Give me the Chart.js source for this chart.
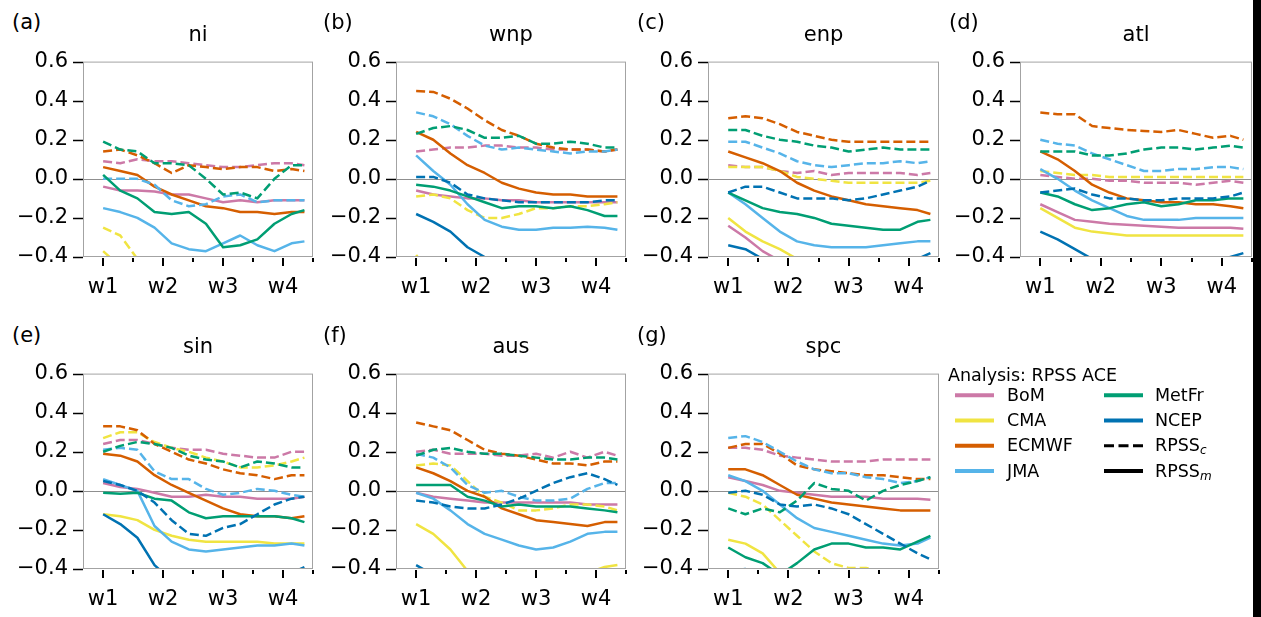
<!DOCTYPE html>
<html lang="en">
<head>
    <meta charset="UTF-8">
    <title>Analysis: RPSS ACE</title>
    <script src="https://cdn.jsdelivr.net/npm/chart.js"></script>
    <style>
        body {
            margin: 0;
            background: #fff;
            font-family: 'DejaVu Sans', sans-serif;
            color: #000;
        }
        #figure {
            position: relative;
            width: 1261px;
            height: 617px;
            overflow: hidden;
            background: #fff;
        }
        .panel { position: absolute; }
        .letter, .title {
            position: absolute;
            font-size: 21px;
            line-height: 21px;
            white-space: nowrap;
        }
        .title { transform: translateX(-50%); }
        .legend-text {
            position: absolute;
            font-size: 17.5px;
            line-height: 17.5px;
            white-space: nowrap;
        }
        .legend-text sub {
            font-size: 12px;
            font-style: italic;
            vertical-align: -3px;
            line-height: 0;
        }
        #legendLines { position: absolute; left: 0; top: 0; }
        /* dark strip along the right edge of the source image */
        .edge { position: absolute; left: 1253px; top: 0; width: 8px; height: 617px; background: #000; }
    </style>
</head>
<body>
<div id="figure">
    <div class="edge"></div>
</div>

<script>
const models = ['BoM', 'CMA', 'ECMWF', 'JMA', 'MetFr', 'NCEP'];
const modelColors = ['#CC79A7', '#F0E442', '#D55E00', '#56B4E9', '#009E73', '#0072B2'];
const regions = ['ni', 'wnp', 'enp', 'atl', 'sin', 'aus', 'spc'];
const panelLetters = ['(a)', '(b)', '(c)', '(d)', '(e)', '(f)', '(g)'];

// lead time in days, w1 = 0
const leadDays = [0, 2, 4, 6, 8, 10, 12, 14, 16, 18, 20, 22, 23.5];
const weekTicks = [0, 7, 14, 21];
const weekLabels = ['w1', 'w2', 'w3', 'w4'];
const halfWeekTicks = [3.5, 10.5, 17.5, 24.5];
const yTicks = [-0.4, -0.2, 0.0, 0.2, 0.4, 0.6];

// rows follow `models`; C = RPSS_c (dashed), M = RPSS_m (solid)
const niC = [
    [0.09, 0.08, 0.10, 0.09, 0.09, 0.08, 0.07, 0.06, 0.06, 0.07, 0.08, 0.08, 0.07],
    [-0.25, -0.29, -0.41, -0.5, -0.5, -0.5, -0.5, -0.5, -0.5, -0.5, -0.5, -0.5, -0.5],
    [0.14, 0.15, 0.12, 0.08, 0.03, 0.07, 0.06, 0.05, 0.06, 0.06, 0.04, 0.05, 0.04],
    [0.0, 0.0, 0.0, -0.03, -0.11, -0.14, -0.13, -0.09, -0.08, -0.12, -0.11, -0.11, -0.11],
    [0.19, 0.15, 0.14, 0.08, 0.08, 0.07, 0.00, -0.08, -0.07, -0.10, 0.00, 0.07, 0.07],
    [-0.5, -0.5, -0.5, -0.5, -0.5, -0.5, -0.5, -0.5, -0.5, -0.5, -0.5, -0.5, -0.5]
];
const niM = [
    [-0.04, -0.06, -0.06, -0.065, -0.08, -0.08, -0.10, -0.12, -0.11, -0.12, -0.11, -0.11, -0.11],
    [-0.37, -0.45, -0.5, -0.5, -0.5, -0.5, -0.5, -0.5, -0.5, -0.5, -0.5, -0.5, -0.5],
    [0.06, 0.04, 0.02, -0.04, -0.08, -0.11, -0.14, -0.15, -0.17, -0.17, -0.18, -0.17, -0.17],
    [-0.15, -0.17, -0.20, -0.25, -0.33, -0.36, -0.37, -0.33, -0.29, -0.34, -0.37, -0.33, -0.32],
    [0.02, -0.06, -0.10, -0.17, -0.18, -0.17, -0.23, -0.35, -0.34, -0.31, -0.23, -0.18, -0.16],
    [-0.5, -0.5, -0.5, -0.5, -0.5, -0.5, -0.5, -0.5, -0.5, -0.5, -0.5, -0.5, -0.5]
];

const wnpC = [
    [0.14, 0.15, 0.16, 0.16, 0.17, 0.17, 0.16, 0.16, 0.15, 0.15, 0.15, 0.14, 0.15],
    [-0.09, -0.08, -0.10, -0.16, -0.20, -0.20, -0.18, -0.15, -0.15, -0.14, -0.14, -0.13, -0.12],
    [0.45, 0.445, 0.41, 0.36, 0.30, 0.25, 0.22, 0.18, 0.16, 0.15, 0.15, 0.14, 0.15],
    [0.34, 0.32, 0.28, 0.22, 0.17, 0.15, 0.16, 0.15, 0.14, 0.13, 0.14, 0.14, 0.15],
    [0.23, 0.26, 0.27, 0.25, 0.21, 0.21, 0.22, 0.18, 0.18, 0.19, 0.18, 0.16, 0.16],
    [0.01, 0.01, -0.02, -0.08, -0.10, -0.11, -0.12, -0.12, -0.12, -0.12, -0.12, -0.11, -0.11]
];
const wnpM = [
    [-0.06, -0.08, -0.09, -0.10, -0.10, -0.11, -0.11, -0.12, -0.12, -0.12, -0.12, -0.12, -0.12],
    [-0.39, -0.5, -0.5, -0.5, -0.5, -0.5, -0.5, -0.5, -0.5, -0.5, -0.5, -0.5, -0.5],
    [0.24, 0.20, 0.13, 0.07, 0.03, -0.02, -0.05, -0.07, -0.08, -0.08, -0.09, -0.09, -0.09],
    [0.12, 0.04, -0.03, -0.13, -0.21, -0.245, -0.26, -0.26, -0.25, -0.25, -0.245, -0.25, -0.26],
    [-0.03, -0.04, -0.06, -0.09, -0.12, -0.15, -0.14, -0.14, -0.15, -0.14, -0.16, -0.19, -0.19],
    [-0.18, -0.22, -0.27, -0.35, -0.40, -0.45, -0.5, -0.5, -0.5, -0.5, -0.5, -0.5, -0.5]
];

const enpC = [
    [0.07, 0.06, 0.06, 0.04, 0.03, 0.04, 0.02, 0.03, 0.03, 0.03, 0.03, 0.02, 0.03],
    [0.06, 0.06, 0.06, 0.04, 0.01, 0.00, -0.01, -0.02, -0.02, -0.02, -0.02, -0.02, -0.01],
    [0.31, 0.32, 0.31, 0.28, 0.24, 0.22, 0.20, 0.19, 0.19, 0.19, 0.19, 0.19, 0.19],
    [0.19, 0.19, 0.16, 0.13, 0.09, 0.07, 0.06, 0.07, 0.08, 0.08, 0.09, 0.08, 0.09],
    [0.25, 0.25, 0.22, 0.20, 0.19, 0.17, 0.16, 0.14, 0.15, 0.16, 0.15, 0.15, 0.15],
    [-0.07, -0.04, -0.04, -0.07, -0.10, -0.10, -0.10, -0.11, -0.10, -0.08, -0.06, -0.04, -0.01]
];
const enpM = [
    [-0.24, -0.30, -0.37, -0.42, -0.5, -0.5, -0.5, -0.5, -0.5, -0.5, -0.5, -0.5, -0.5],
    [-0.20, -0.27, -0.32, -0.36, -0.41, -0.5, -0.5, -0.5, -0.5, -0.5, -0.5, -0.5, -0.5],
    [0.14, 0.11, 0.08, 0.04, -0.02, -0.06, -0.09, -0.11, -0.13, -0.14, -0.15, -0.16, -0.18],
    [-0.07, -0.13, -0.20, -0.27, -0.32, -0.34, -0.35, -0.35, -0.35, -0.34, -0.33, -0.32, -0.32],
    [-0.07, -0.11, -0.15, -0.17, -0.18, -0.20, -0.23, -0.24, -0.25, -0.26, -0.26, -0.22, -0.21],
    [-0.34, -0.36, -0.41, -0.5, -0.5, -0.5, -0.5, -0.5, -0.5, -0.5, -0.44, -0.41, -0.38]
];

const atlC = [
    [0.02, 0.01, 0.00, 0.00, -0.01, -0.01, -0.02, -0.02, -0.02, -0.03, -0.02, -0.01, -0.02],
    [0.04, 0.03, 0.02, 0.02, 0.01, 0.01, 0.01, 0.01, 0.01, 0.01, 0.01, 0.01, 0.01],
    [0.34, 0.33, 0.33, 0.27, 0.26, 0.25, 0.245, 0.24, 0.25, 0.23, 0.21, 0.22, 0.20],
    [0.20, 0.18, 0.17, 0.13, 0.10, 0.07, 0.04, 0.04, 0.05, 0.05, 0.06, 0.06, 0.05],
    [0.14, 0.14, 0.14, 0.12, 0.12, 0.13, 0.15, 0.16, 0.16, 0.15, 0.16, 0.17, 0.16],
    [-0.07, -0.06, -0.05, -0.08, -0.10, -0.10, -0.11, -0.11, -0.10, -0.10, -0.10, -0.09, -0.07]
];
const atlM = [
    [-0.13, -0.17, -0.21, -0.22, -0.23, -0.235, -0.24, -0.245, -0.25, -0.25, -0.25, -0.25, -0.255],
    [-0.15, -0.20, -0.25, -0.27, -0.28, -0.29, -0.29, -0.29, -0.29, -0.29, -0.29, -0.29, -0.29],
    [0.14, 0.10, 0.04, -0.03, -0.07, -0.10, -0.11, -0.12, -0.12, -0.13, -0.13, -0.14, -0.15],
    [0.05, 0.00, -0.06, -0.11, -0.15, -0.19, -0.21, -0.21, -0.21, -0.20, -0.20, -0.20, -0.20],
    [-0.07, -0.09, -0.13, -0.16, -0.15, -0.13, -0.12, -0.14, -0.13, -0.11, -0.11, -0.10, -0.10],
    [-0.27, -0.31, -0.36, -0.41, -0.45, -0.5, -0.5, -0.5, -0.5, -0.48, -0.43, -0.40, -0.38]
];

const sinC = [
    [0.24, 0.26, 0.26, 0.24, 0.22, 0.21, 0.21, 0.19, 0.18, 0.17, 0.17, 0.20, 0.20],
    [0.27, 0.30, 0.30, 0.25, 0.22, 0.20, 0.17, 0.15, 0.12, 0.12, 0.13, 0.15, 0.17],
    [0.33, 0.33, 0.31, 0.24, 0.20, 0.16, 0.14, 0.11, 0.09, 0.08, 0.06, 0.08, 0.08],
    [0.21, 0.22, 0.21, 0.10, 0.06, 0.06, 0.01, -0.02, -0.01, 0.01, 0.00, -0.02, -0.03],
    [0.20, 0.23, 0.25, 0.24, 0.22, 0.18, 0.16, 0.15, 0.12, 0.15, 0.14, 0.12, 0.12],
    [0.05, 0.03, 0.00, -0.06, -0.15, -0.22, -0.23, -0.19, -0.17, -0.12, -0.07, -0.04, -0.03]
];
const sinM = [
    [0.04, 0.02, 0.01, -0.01, -0.03, -0.03, -0.02, -0.03, -0.03, -0.04, -0.04, -0.04, -0.03],
    [-0.12, -0.13, -0.15, -0.20, -0.23, -0.25, -0.26, -0.26, -0.26, -0.26, -0.27, -0.27, -0.27],
    [0.19, 0.18, 0.15, 0.08, 0.03, -0.01, -0.05, -0.09, -0.12, -0.13, -0.13, -0.14, -0.13],
    [0.06, 0.03, 0.00, -0.18, -0.26, -0.30, -0.31, -0.30, -0.29, -0.28, -0.28, -0.27, -0.28],
    [-0.01, -0.015, -0.01, -0.04, -0.05, -0.11, -0.14, -0.13, -0.13, -0.13, -0.13, -0.14, -0.16],
    [-0.12, -0.17, -0.24, -0.38, -0.46, -0.5, -0.5, -0.5, -0.5, -0.5, -0.47, -0.42, -0.39]
];

const ausC = [
    [0.20, 0.21, 0.19, 0.19, 0.19, 0.18, 0.18, 0.19, 0.17, 0.20, 0.17, 0.20, 0.18],
    [0.13, 0.14, 0.13, 0.05, -0.03, -0.06, -0.10, -0.10, -0.09, -0.07, -0.07, -0.08, -0.10],
    [0.35, 0.33, 0.31, 0.26, 0.21, 0.19, 0.18, 0.16, 0.14, 0.14, 0.13, 0.15, 0.15],
    [0.19, 0.17, 0.12, 0.03, -0.01, 0.00, -0.03, -0.05, -0.05, -0.04, 0.01, 0.04, 0.04],
    [0.18, 0.21, 0.22, 0.20, 0.19, 0.19, 0.18, 0.17, 0.16, 0.16, 0.17, 0.17, 0.16],
    [-0.05, -0.06, -0.08, -0.09, -0.09, -0.07, -0.04, 0.00, 0.04, 0.07, 0.09, 0.06, 0.03]
];
const ausM = [
    [-0.01, -0.03, -0.04, -0.05, -0.06, -0.06, -0.06, -0.06, -0.06, -0.06, -0.07, -0.07, -0.07],
    [-0.17, -0.22, -0.30, -0.41, -0.48, -0.5, -0.5, -0.5, -0.5, -0.47, -0.42, -0.39, -0.38],
    [0.12, 0.09, 0.05, 0.00, -0.03, -0.09, -0.12, -0.15, -0.16, -0.17, -0.18, -0.16, -0.16],
    [-0.01, -0.04, -0.10, -0.17, -0.22, -0.25, -0.28, -0.30, -0.29, -0.26, -0.22, -0.21, -0.21],
    [0.03, 0.03, 0.03, -0.03, -0.05, -0.08, -0.07, -0.08, -0.08, -0.08, -0.09, -0.10, -0.11],
    [-0.38, -0.43, -0.5, -0.5, -0.5, -0.5, -0.5, -0.5, -0.5, -0.5, -0.5, -0.5, -0.5]
];

const spcC = [
    [0.22, 0.22, 0.21, 0.18, 0.17, 0.16, 0.15, 0.15, 0.15, 0.16, 0.16, 0.16, 0.16],
    [-0.01, -0.03, -0.07, -0.15, -0.23, -0.31, -0.37, -0.395, -0.395, -0.41, -0.45, -0.5, -0.5],
    [0.22, 0.24, 0.24, 0.19, 0.13, 0.11, 0.10, 0.09, 0.08, 0.08, 0.07, 0.06, 0.06],
    [0.27, 0.28, 0.25, 0.20, 0.15, 0.11, 0.09, 0.09, 0.07, 0.06, 0.04, 0.05, 0.07],
    [-0.09, -0.12, -0.09, -0.11, -0.05, 0.04, 0.01, 0.00, -0.05, 0.00, 0.03, 0.05, 0.07],
    [-0.01, 0.00, -0.02, -0.07, -0.08, -0.07, -0.09, -0.12, -0.17, -0.22, -0.27, -0.32, -0.35]
];
const spcM = [
    [0.07, 0.05, 0.03, 0.00, -0.01, -0.02, -0.03, -0.03, -0.03, -0.04, -0.04, -0.04, -0.045],
    [-0.25, -0.27, -0.32, -0.42, -0.5, -0.5, -0.5, -0.5, -0.5, -0.5, -0.5, -0.5, -0.5],
    [0.11, 0.11, 0.08, 0.03, -0.02, -0.04, -0.06, -0.07, -0.08, -0.09, -0.10, -0.10, -0.10],
    [0.08, 0.05, 0.00, -0.07, -0.14, -0.19, -0.21, -0.23, -0.25, -0.27, -0.28, -0.27, -0.24],
    [-0.29, -0.34, -0.37, -0.43, -0.37, -0.30, -0.27, -0.27, -0.29, -0.29, -0.30, -0.26, -0.23],
    [-0.41, -0.40, -0.45, -0.5, -0.5, -0.5, -0.5, -0.5, -0.5, -0.5, -0.5, -0.5, -0.5]
];

const rpssC = [niC, wnpC, enpC, atlC, sinC, ausC, spcC];
const rpssM = [niM, wnpM, enpM, atlM, sinM, ausM, spcM];

// axes boxes in page pixels: left, top, width, height
const panelBoxes = [
    [83, 60, 230, 197], [396, 60, 230, 197], [708, 60, 231, 197], [1020, 60, 232, 197],
    [83, 372, 230, 197], [396, 372, 230, 197], [708, 372, 231, 197]
];
const letterPos = [[12, 12], [323, 12], [637, 12], [949, 12], [12, 325], [323, 325], [637, 325]];

const Y_AXIS_W = 80, X_AXIS_H = 45, PAD_TOP = 15, PAD_RIGHT = 10;
const tickFont = { family: "'DejaVu Sans', sans-serif", size: 21 };

function fmtTick(v) {
    const s = (Math.round(v * 10) / 10).toFixed(1);
    return s.replace('-', '\u2212');
}

// frame, zero line and matplotlib-style tick marks
const axesDecor = {
    id: 'axesDecor',
    beforeDatasetsDraw(chart) {
        const { ctx, chartArea: a, scales: { y } } = chart;
        ctx.save();
        ctx.strokeStyle = '#8f8f8f';
        ctx.lineWidth = 1;
        const y0 = Math.round(y.getPixelForValue(0)) + 0.5;
        ctx.beginPath();
        ctx.moveTo(a.left, y0);
        ctx.lineTo(a.right, y0);
        ctx.stroke();
        ctx.restore();
    },
    afterDraw(chart) {
        const { ctx, chartArea: a, scales: { x, y } } = chart;
        ctx.save();
        ctx.strokeStyle = '#a3a3a3';
        ctx.lineWidth = 1;
        ctx.strokeRect(a.left + 0.5, a.top + 0.5, a.right - a.left - 1, a.bottom - a.top - 1);

        ctx.strokeStyle = '#000';
        ctx.lineWidth = 1.6;
        ctx.beginPath();
        yTicks.forEach(v => {
            const py = Math.round(y.getPixelForValue(v)) + 0.5;
            ctx.moveTo(a.left - 10, py);
            ctx.lineTo(a.left, py);
        });
        ctx.stroke();

        ctx.lineWidth = 2;
        ctx.beginPath();
        weekTicks.forEach(v => {
            const px = Math.round(x.getPixelForValue(v));
            ctx.moveTo(px, a.bottom + 1);
            ctx.lineTo(px, a.bottom + 9);
        });
        halfWeekTicks.forEach(v => {
            const px = Math.round(x.getPixelForValue(v));
            ctx.moveTo(px, a.bottom + 1);
            ctx.lineTo(px, a.bottom + 5);
        });
        ctx.stroke();
        ctx.restore();
    }
};

function buildDatasets(cRows, mRows) {
    const sets = [];
    models.forEach((name, k) => {
        sets.push({
            label: name + ' RPSSc',
            data: leadDays.map((d, i) => ({ x: d, y: cRows[k][i] })),
            borderColor: modelColors[k],
            borderWidth: 2.5,
            borderDash: [9, 4],
            borderJoinStyle: 'round',
            pointRadius: 0,
            fill: false,
            clip: 0
        });
        sets.push({
            label: name + ' RPSSm',
            data: leadDays.map((d, i) => ({ x: d, y: mRows[k][i] })),
            borderColor: modelColors[k],
            borderWidth: 2.5,
            borderJoinStyle: 'round',
            pointRadius: 0,
            fill: false,
            clip: 0
        });
    });
    // Chart.js paints the first dataset on top, so reverse to keep later models above
    return sets.reverse();
}

const figure = document.getElementById('figure');

regions.forEach((region, p) => {
    const [L, T, W, H] = panelBoxes[p];

    const canvas = document.createElement('canvas');
    canvas.className = 'panel';
    canvas.width = Y_AXIS_W + W + PAD_RIGHT;
    canvas.height = PAD_TOP + H + X_AXIS_H;
    canvas.style.left = (L - Y_AXIS_W) + 'px';
    canvas.style.top = (T - PAD_TOP) + 'px';
    canvas.style.width = canvas.width + 'px';
    canvas.style.height = canvas.height + 'px';
    figure.appendChild(canvas);

    new Chart(canvas, {
        type: 'line',
        data: { datasets: buildDatasets(rpssC[p], rpssM[p]) },
        options: {
            responsive: false,
            animation: false,
            layout: { padding: { left: 0, right: PAD_RIGHT, top: PAD_TOP, bottom: 0 } },
            plugins: { legend: { display: false }, tooltip: { enabled: false } },
            scales: {
                x: {
                    type: 'linear',
                    min: -2.35,
                    max: 24.5,
                    afterFit: s => { s.height = X_AXIS_H; },
                    afterBuildTicks: s => { s.ticks = weekTicks.map(v => ({ value: v })); },
                    ticks: {
                        callback: (v, i) => weekLabels[i],
                        font: tickFont,
                        color: '#000',
                        padding: 7,
                        maxRotation: 0,
                        autoSkip: false
                    },
                    grid: { drawOnChartArea: false, color: 'rgba(0,0,0,0)', tickLength: 11 },
                    border: { display: false }
                },
                y: {
                    min: -0.4,
                    max: 0.6,
                    afterFit: s => { s.width = Y_AXIS_W; },
                    afterBuildTicks: s => { s.ticks = yTicks.map(v => ({ value: v })); },
                    ticks: {
                        callback: v => fmtTick(v),
                        font: tickFont,
                        color: '#000',
                        padding: 4
                    },
                    grid: { drawOnChartArea: false, color: 'rgba(0,0,0,0)', tickLength: 11 },
                    border: { display: false }
                }
            }
        },
        plugins: [axesDecor]
    });

    // panel letter and region title
    const letter = document.createElement('div');
    letter.className = 'letter';
    letter.textContent = panelLetters[p];
    letter.style.left = letterPos[p][0] + 'px';
    letter.style.top = letterPos[p][1] + 'px';
    figure.appendChild(letter);

    const title = document.createElement('div');
    title.className = 'title';
    title.textContent = region;
    title.style.left = (L + W / 2) + 'px';
    title.style.top = (T - 36) + 'px';
    figure.appendChild(title);
});

// legend
const legendRows = [395.3, 420.5, 445.7, 471];
const svgNS = 'http://www.w3.org/2000/svg';
const svg = document.createElementNS(svgNS, 'svg');
svg.setAttribute('id', 'legendLines');
svg.setAttribute('width', 1261);
svg.setAttribute('height', 617);

function addSwatch(x1, x2, yc, color, dash) {
    const line = document.createElementNS(svgNS, 'line');
    line.setAttribute('x1', x1);
    line.setAttribute('x2', x2);
    line.setAttribute('y1', yc);
    line.setAttribute('y2', yc);
    line.setAttribute('stroke', color);
    line.setAttribute('stroke-width', dash ? 3 : 4);
    if (dash) line.setAttribute('stroke-dasharray', dash);
    svg.appendChild(line);
}

function addLegendText(html, x, yc) {
    const el = document.createElement('div');
    el.className = 'legend-text';
    el.innerHTML = html;
    el.style.left = x + 'px';
    el.style.top = (yc - 8.4) + 'px';
    figure.appendChild(el);
}

addLegendText('Analysis: RPSS ACE', 948, 375.3);
models.forEach((name, k) => {
    const col = k < 4 ? 0 : 1;
    const row = k < 4 ? k : k - 4;
    const x1 = col === 0 ? 955 : 1104;
    addSwatch(x1, x1 + 39, legendRows[row], modelColors[k], null);
    addLegendText(name, col === 0 ? 1007 : 1155, legendRows[row]);
});
addSwatch(1104, 1143, legendRows[2], '#000', '10 4.5');
addLegendText('RPSS<sub>c</sub>', 1155, legendRows[2]);
addSwatch(1104, 1143, legendRows[3], '#000', null);
addLegendText('RPSS<sub>m</sub>', 1155, legendRows[3]);

figure.appendChild(svg);
</script>
</body>
</html>
